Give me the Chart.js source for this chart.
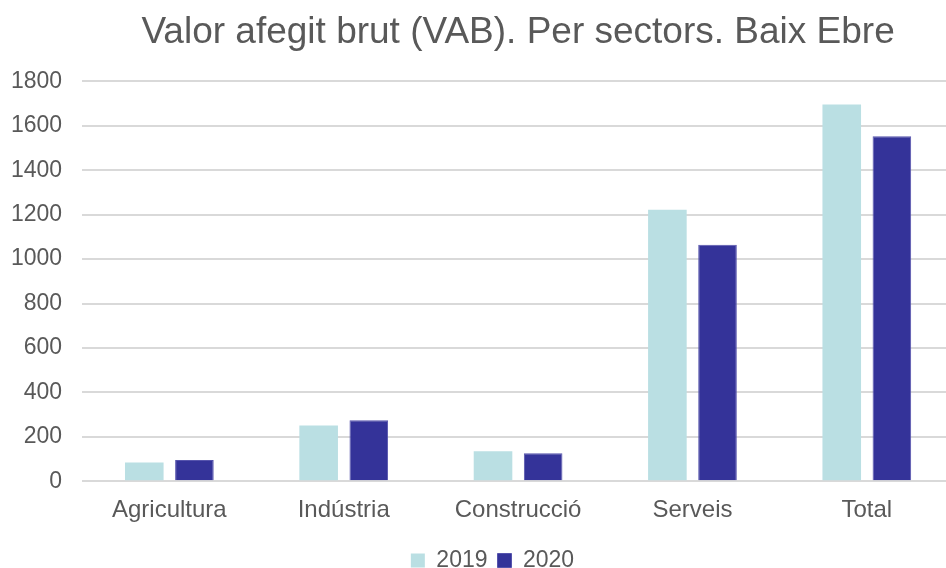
<!DOCTYPE html>
<html>
<head>
<meta charset="utf-8">
<script src="https://cdn.jsdelivr.net/npm/chart.js@4.4.1/dist/chart.umd.min.js"></script>
<style>
  html, body { margin: 0; padding: 0; background: #fff; overflow: hidden; }
  #wrap { width: 956px; height: 582px; }
</style>
</head>
<body>
<div id="wrap"><canvas id="chart"></canvas></div>
<script>
const sectors = ["Agricultura", "Indústria", "Construcció", "Serveis", "Total"];
const vab2019 = [84, 251, 135, 1222, 1696];
const vab2020 = [95, 274, 126, 1065, 1553];
const yTicks = [0, 200, 400, 600, 800, 1000, 1200, 1400, 1600, 1800];

const textColor = "#595959";
const fontFamily = "'Liberation Sans', Arial, sans-serif";

const datasets = [
  { label: "2019", data: vab2019, backgroundColor: "#BADFE3", borderWidth: 0 },
  { label: "2020", data: vab2020, backgroundColor: "#343399", borderColor: "#5654ad", borderWidth: 1 }
];

// nudge the centred legend a bit to the right, like the original
const legendShift = {
  id: "legendShift",
  afterLayout(chart) {
    chart.legend.left += 20;
    chart.legend.right += 20;
  }
};

const config = {
  type: "bar",
  data: { labels: sectors, datasets },
  plugins: [legendShift],
  options: {
    responsive: true,
    maintainAspectRatio: false,
    animation: false,
    categoryPercentage: 0.575,
    barPercentage: 0.77,
    layout: { padding: { left: -9, right: 2, top: 0, bottom: 0 } },
    plugins: {
      title: {
        display: true,
        text: "Valor afegit brut (VAB). Per sectors. Baix Ebre",
        color: textColor,
        fullSize: false,
        font: { family: fontFamily, size: 37, weight: "normal" },
        padding: { top: 11, bottom: 26 }
      },
      legend: {
        position: "bottom",
        labels: {
          color: textColor,
          font: { family: fontFamily, size: 23 },
          boxWidth: 14,
          boxHeight: 14,
          padding: 10
        }
      },
      tooltip: { enabled: false }
    },
    scales: {
      x: {
        grid: { display: false },
        border: { display: false },
        ticks: { color: textColor, font: { family: fontFamily, size: 24 }, padding: 7 },
        afterFit: (axis) => { axis.height += 7; }
      },
      y: {
        min: 0,
        max: 1800,
        afterBuildTicks: (axis) => { axis.ticks = yTicks.map(v => ({ value: v })); },
        grid: { color: "#D9D9D9", lineWidth: 2, drawTicks: false },
        border: { display: false },
        ticks: {
          color: textColor,
          font: { family: fontFamily, size: 23 },
          padding: 20,
          callback: (v) => String(v)
        }
      }
    }
  }
};

new Chart(document.getElementById("chart"), config);
</script>
</body>
</html>
